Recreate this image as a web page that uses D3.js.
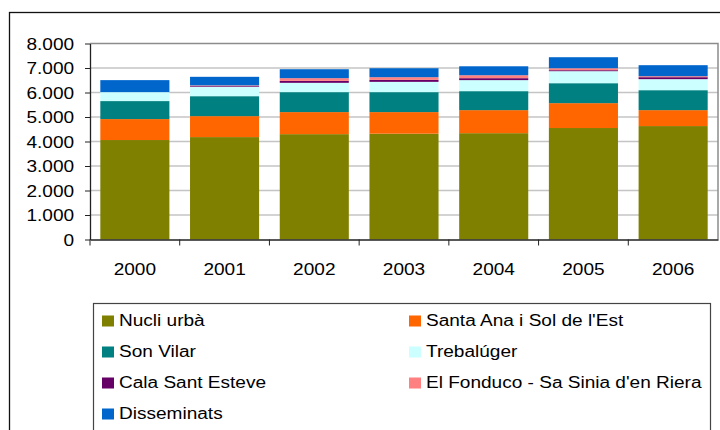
<!DOCTYPE html>
<html>
<head>
<meta charset="utf-8">
<script src="https://cdn.jsdelivr.net/npm/d3@7"></script>
<style>
  body { margin: 0; background: #fff; }
  text { font-family: "Liberation Sans", Arial, sans-serif; font-size: 16px; fill: #000; }
</style>
</head>
<body>
<script>
const w = 720;
const h = 430;

// data
const years = ["2000", "2001", "2002", "2003", "2004", "2005", "2006"];
const seriesNames = ["Nucli urbà", "Santa Ana i Sol de l'Est", "Son Vilar", "Trebalúger",
                     "Cala Sant Esteve", "El Fonduco - Sa Sinia d'en Riera", "Disseminats"];
const nucliUrba     = [4060, 4180, 4300, 4320, 4340, 4550, 4630];
const santaAna      = [855, 855, 900, 880, 940, 1015, 650];
const sonVilar      = [735, 815, 815, 815, 775, 815, 815];
const trebaluger    = [365, 380, 380, 420, 450, 490, 450];
const calaSantEsteve= [0, 30, 80, 80, 80, 40, 80];
const elFonduco     = [0, 30, 110, 110, 120, 80, 40];
const disseminats   = [490, 350, 365, 365, 365, 450, 450];
const colors = ["#808000", "#ff6600", "#008080", "#ccffff", "#660066", "#ff8080", "#0066cc"];
const yTicks = [0, 1000, 2000, 3000, 4000, 5000, 6000, 7000, 8000];
const yTickLabels = ["0", "1.000", "2.000", "3.000", "4.000", "5.000", "6.000", "7.000", "8.000"];

const allSeries = [nucliUrba, santaAna, sonVilar, trebaluger, calaSantEsteve, elFonduco, disseminats];
const rows = years.map((yr, i) => {
  let r = {year: yr};
  seriesNames.forEach((s, j) => r[s] = allSeries[j][i]);
  return r;
});
const stacked = d3.stack().keys(seriesNames)(rows);

const stretch = "scale(1.19,1)";
const plotLeft = 90, plotRight = 718, plotTop = 43.5, plotBottom = 239.5;

const x = d3.scaleBand().domain(years).range([plotLeft, plotRight]).paddingInner(0.23).paddingOuter(0.115);
const y = d3.scaleLinear().domain([0, 8000]).range([plotBottom, plotTop]);

const svg = d3.select("body").append("svg")
  .attr("width", w)
  .attr("height", h);

// outer chart frame
svg.append("rect")
  .attr("x", 9.5).attr("y", 12.5)
  .attr("width", 730).attr("height", 440)
  .attr("fill", "#fff")
  .attr("stroke", "#111").attr("stroke-width", 1.3);

// gridlines
svg.append("g")
  .selectAll("line")
  .data(yTicks.filter(d => d > 0 && d < 8000))
  .enter().append("line")
  .attr("x1", plotLeft).attr("x2", plotRight)
  .attr("y1", d => y(d)).attr("y2", d => y(d))
  .attr("stroke", "#c4c4c4").attr("stroke-width", 1.3);

// plot area border (top + right)
svg.append("path")
  .attr("d", `M${plotLeft},${plotTop} H${plotRight} V${plotBottom}`)
  .attr("fill", "none")
  .attr("stroke", "#8c8c8c").attr("stroke-width", 1.5);

// bars
svg.append("g")
  .selectAll("g")
  .data(stacked)
  .enter().append("g")
  .attr("fill", (d, i) => colors[i])
  .selectAll("rect")
  .data(d => d)
  .enter().append("rect")
  .attr("x", d => x(d.data.year))
  .attr("width", x.bandwidth())
  .attr("y", d => y(d[1]))
  .attr("height", d => y(d[0]) - y(d[1]));

// y axis
const yAxis = svg.append("g")
  .attr("transform", `translate(${plotLeft},0)`)
  .call(d3.axisLeft(y).tickValues(yTicks).tickSizeInner(5).tickSizeOuter(0)
        .tickPadding(8.4).tickFormat((d, i) => yTickLabels[i]));
yAxis.select(".domain").attr("stroke", "#222").attr("stroke-width", 1.3);
yAxis.selectAll(".tick line").attr("stroke", "#222");
yAxis.selectAll("text")
  .attr("transform", stretch)
  .attr("dy", "0.36em")
  .style("font-size", "16px")
  .style("font-family", "Liberation Sans, Arial, sans-serif")
  .attr("fill", "#000");

// x axis
const xAxis = svg.append("g")
  .attr("transform", `translate(0,${plotBottom})`)
  .call(d3.axisBottom(x).tickSizeInner(0).tickSizeOuter(0).tickPadding(24.6));
xAxis.select(".domain").attr("stroke", "#222").attr("stroke-width", 1.3);
xAxis.selectAll("text")
  .attr("transform", stretch)
  .style("font-size", "16px")
  .style("font-family", "Liberation Sans, Arial, sans-serif")
  .attr("fill", "#000");

// category separator ticks
const gap = x.step() * x.paddingInner() / 2;
xAxis.selectAll(".sep")
  .data(years)
  .enter().append("line")
  .attr("class", "sep")
  .attr("x1", d => x(d) - gap).attr("x2", d => x(d) - gap)
  .attr("y1", 0).attr("y2", 6)
  .attr("stroke", "#222");

// legend
const legend = svg.append("g").attr("id", "legend");
legend.append("rect")
  .attr("x", 93.5).attr("y", 303.5)
  .attr("width", 617).attr("height", 200)
  .attr("fill", "#fff")
  .attr("stroke", "#444").attr("stroke-width", 1.2);

const item = legend.selectAll(".item")
  .data(seriesNames)
  .enter().append("g")
  .attr("class", "item")
  .attr("transform", (d, i) => `translate(${102 + (i % 2) * 307},${325.5 + Math.floor(i / 2) * 31})`);

item.append("rect")
  .attr("x", 0).attr("y", -10)
  .attr("width", 12).attr("height", 11)
  .attr("fill", (d, i) => colors[i]);

item.append("text")
  .attr("transform", `translate(17,0) ${stretch}`)
  .text(d => d);
</script>
</body>
</html>
